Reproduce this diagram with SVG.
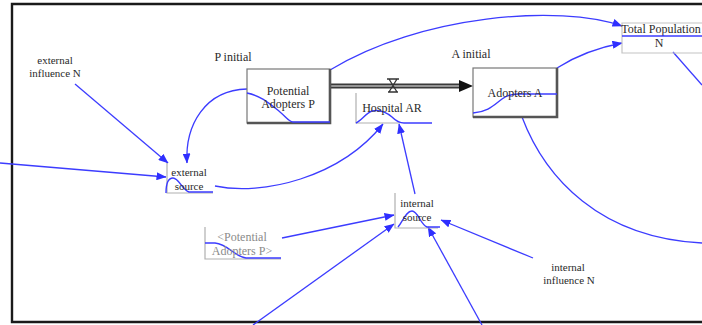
<svg xmlns="http://www.w3.org/2000/svg" width="702" height="325" viewBox="0 0 702 325">
  <style>
    text { font-family: "Liberation Serif", "Times New Roman", serif; font-size: 12px; fill: #2a2a2a; text-anchor: middle; }
    text.small { font-size: 11px; }
    text.shadow { fill: #8a8a8a; }
    .link { fill: none; stroke: #3c3cff; stroke-width: 1.3; }
    .linkA { fill: none; stroke: #3c3cff; stroke-width: 1.3; marker-end: url(#arrow); }
    .curve { fill: none; stroke: #3c3cff; stroke-width: 1.4; }
    .stock { fill: #ffffff; stroke: #777; stroke-width: 1.2; }
    .stockShade { fill: none; stroke: #555; stroke-width: 2.6; }
    .aux { fill: none; stroke: #b0b0b0; stroke-width: 1.2; }
  </style>
  <defs>
    <marker id="arrow" viewBox="0 0 10 8" refX="9.5" refY="4" markerWidth="10" markerHeight="8" markerUnits="userSpaceOnUse" orient="auto">
      <path d="M0,0 L10,4 L0,8 Z" fill="#2f2fff"/>
    </marker>
  </defs>

  <rect width="702" height="325" fill="#ffffff"/>
  <!-- outer frame -->
  <path d="M710,4 H12 V322 H710" fill="none" stroke="#1a1a1a" stroke-width="2.4"/>

  <!-- flow pipe with valve -->
  <g id="flow-pipe">
    <line x1="331" y1="86" x2="462" y2="86" stroke="#3a3a3a" stroke-width="5"/>
    <line x1="331" y1="86" x2="462" y2="86" stroke="#b5b5b5" stroke-width="1.4"/>
    <path d="M459,80 L473,86 L459,92 Z" fill="#111"/>
    <path d="M387,79 H399 M389,79 L397,92 M397,79 L389,92 M388,92 H398" fill="none" stroke="#333" stroke-width="1.3"/>
  </g>

  <!-- connectors -->
  <g id="connectors">
    <path class="linkA" d="M75,84 L168,163"/>
    <path class="linkA" d="M247,89 C205,90 185,125 187,163"/>
    <path class="linkA" d="M0,163 L166,177"/>
    <path class="linkA" d="M215,186 C262,196 340,178 383,124"/>
    <path class="linkA" d="M415,194 L399,124"/>
    <path class="linkA" d="M330,70 C420,15 560,4 622,26"/>
    <path class="linkA" d="M557,68 Q585,50 622,43"/>
    <path class="link" d="M673,52 L702,85"/>
    <path class="link" d="M522,117 C545,178 600,238 702,243"/>
    <path class="linkA" d="M282,238 L394,215"/>
    <path class="linkA" d="M253,325 L394,224"/>
    <path class="linkA" d="M482,325 L428,227"/>
    <path class="linkA" d="M533,258 L441,220"/>
  </g>

  <g id="external-influence-N">
    <text class="small" x="55" y="64">external</text>
    <text class="small" x="55" y="77">influence N</text>
  </g>

  <g id="P-initial">
    <text x="233" y="61">P initial</text>
  </g>

  <g id="A-initial">
    <text x="471" y="58">A initial</text>
  </g>

  <g id="potential-adopters-P">
    <rect class="stock" x="247" y="69" width="83" height="54"/>
    <path class="stockShade" d="M330,69 V123 H247"/>
    <path class="curve" d="M247,93 C262,96 270,104 280,112 C286,117 289,122 293,122 H330"/>
    <text x="288" y="95">Potential</text>
    <text x="288" y="108">Adopters P</text>
  </g>

  <g id="adopters-A">
    <rect class="stock" x="473" y="68" width="84" height="49"/>
    <path class="stockShade" d="M557,68 V117 H473"/>
    <path class="curve" d="M473,113 C488,112 494,105 502,99 C506,96 510,94 518,94 H557"/>
    <text x="515" y="97">Adopters A</text>
  </g>

  <g id="hospital-AR">
    <path class="aux" d="M356,93 V123 H400"/>
    <path class="curve" d="M356,123 C362,120 366,113 372,111 C380,109 386,112 392,117 C396,121 399,123 404,123 H432"/>
    <text x="392" y="112">Hospital AR</text>
  </g>

  <g id="total-population-N">
    <path d="M710,23 H622 V53 H710" fill="none" stroke="#c4c4c4" stroke-width="1.2"/>
    <text x="661" y="33">Total Population</text>
    <line x1="622" y1="36" x2="702" y2="36" stroke="#3c3cff" stroke-width="1.4"/>
    <text x="659" y="47">N</text>
  </g>

  <g id="external-source">
    <path class="aux" d="M167,163 V193 H213"/>
    <path class="curve" d="M166,193 C166,185 167,178 173,178 C179,178 182,190 189,192 H213"/>
    <text class="small" x="189" y="176">external</text>
    <text class="small" x="189" y="190">source</text>
  </g>

  <g id="internal-source">
    <path class="aux" d="M395,193 V228 H438"/>
    <path class="curve" d="M398,227 C403,221 406,211 412,211 C418,211 420,224 427,227 H440"/>
    <text class="small" x="417" y="207">internal</text>
    <text class="small" x="417" y="221">source</text>
  </g>

  <g id="potential-adopters-P-shadow">
    <path class="aux" d="M205,227 V259 H281"/>
    <path class="curve" d="M205,243 H215 C228,244 235,257 246,258 H281"/>
    <text class="shadow" x="242" y="241">&lt;Potential</text>
    <text class="shadow" x="242" y="255">Adopters P&gt;</text>
  </g>

  <g id="internal-influence-N">
    <text class="small" x="568" y="271">internal</text>
    <text class="small" x="569" y="284">influence N</text>
  </g>
</svg>
